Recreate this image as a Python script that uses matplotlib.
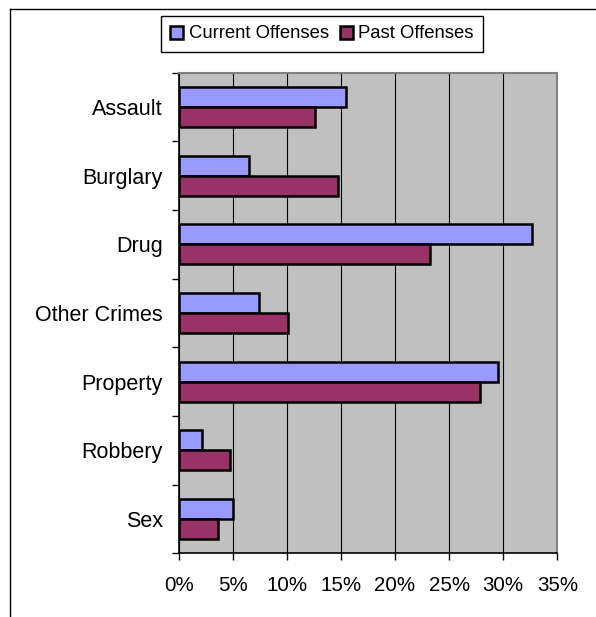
import matplotlib
matplotlib.use('Agg')
import matplotlib.pyplot as plt
import numpy as np
from matplotlib.patches import Patch
from matplotlib.lines import Line2D
from matplotlib.ticker import FuncFormatter, MultipleLocator

categories = ['Assault', 'Burglary', 'Drug', 'Other Crimes', 'Property', 'Robbery', 'Sex']
current = [15.5, 6.5, 32.7, 7.45, 29.5, 2.2, 5.05]
past = [12.6, 14.7, 23.2, 10.1, 27.9, 4.75, 3.6]
series_names = ['Current Offenses', 'Past Offenses']

C_CUR = '#9999FF'
C_PAST = '#993366'
BG = '#C0C0C0'

plt.rcParams['font.family'] = ['Liberation Sans', 'DejaVu Sans']

W, H = 596, 617
fig = plt.figure(figsize=(W / 100, H / 100), dpi=100)

# outer chart frame (only top and left edge visible)
fig.add_artist(Line2D([10 / W, 1.0], [1 - 9 / H, 1 - 9 / H], color='black', lw=1.0,
                      transform=fig.transFigure))
fig.add_artist(Line2D([10 / W, 10 / W], [0, 1 - 9 / H], color='black', lw=1.0,
                      transform=fig.transFigure))

ax = fig.add_axes([178.7 / W, 63.7 / H, (557.3 - 178.7) / W, (553.3 - 72.7) / H])
ax.set_facecolor(BG)

y = np.arange(len(categories))
h = 0.29
ax.barh(y - h / 2, current, height=h, color=C_CUR, edgecolor='black', linewidth=1.8, zorder=3)
ax.barh(y + h / 2, past, height=h, color=C_PAST, edgecolor='black', linewidth=1.8, zorder=3)

ax.set_xlim(0, 35)
ax.set_ylim(len(categories) - 0.5, -0.5)
ax.xaxis.set_major_locator(MultipleLocator(5))
ax.xaxis.set_major_formatter(FuncFormatter(lambda v, p: f'{v:.0f}%'))
ax.grid(axis='x', color='black', lw=0.8, zorder=1)
ax.set_axisbelow(True)

# ticks at category boundaries, labels centred on categories
ax.set_yticks(np.arange(-0.5, len(categories), 1.0))
ax.set_yticklabels([])
ax.set_yticks(y, minor=True)
ax.set_yticklabels(categories, minor=True)
ax.tick_params(axis='y', which='major', direction='out', length=5, width=1)
ax.tick_params(axis='y', which='minor', length=0, pad=11.5, labelsize=15.5)
ax.tick_params(axis='x', direction='out', length=5, width=1, pad=11, labelsize=14.8)

for s in ('left', 'bottom'):
    ax.spines[s].set_color('black')
    ax.spines[s].set_linewidth(1.2)
for s in ('top', 'right'):
    ax.spines[s].set_color('#808080')
    ax.spines[s].set_linewidth(1.5)

handles = [Patch(facecolor=C_CUR, edgecolor='black', linewidth=1.8),
           Patch(facecolor=C_PAST, edgecolor='black', linewidth=1.8)]
leg = fig.legend(handles, series_names, ncol=2, loc='center',
                 bbox_to_anchor=(322 / W, 1 - 34 / H), fontsize=13.3,
                 frameon=True, fancybox=False, edgecolor='black', framealpha=1,
                 handlelength=0.7, handleheight=0.7, handletextpad=0.3,
                 columnspacing=0.6, borderpad=0.5, borderaxespad=0)
leg.get_frame().set_linewidth(1.0)

fig.savefig('out.png', dpi=100, facecolor='white')
